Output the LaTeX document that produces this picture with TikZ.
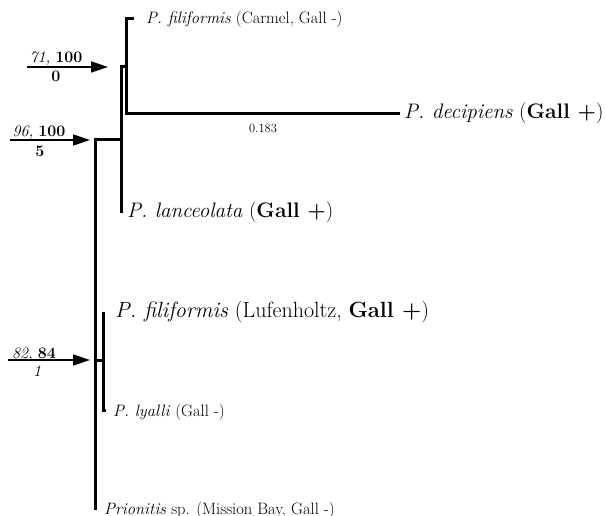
\documentclass[tikz,border=0pt]{standalone}
\usetikzlibrary{arrows.meta}
\begin{document}
\begin{tikzpicture}[x=1pt,y=-1pt,
  branch/.style={line width=3pt, line cap=butt, line join=miter},
  support/.style={line width=1.5pt, -{Triangle[length=17pt,width=11pt]}},
  big/.style={font=\fontsize{21}{25}\selectfont, inner sep=0pt},
  bigger/.style={font=\fontsize{22}{26}\selectfont, inner sep=0pt},
  small/.style={font=\fontsize{16.5}{20}\selectfont, inner sep=0pt},
  lab/.style={font=\fontsize{16}{19}\selectfont, inner sep=0pt},
  blen/.style={font=\fontsize{12.5}{15}\selectfont, inner sep=0pt}]
\useasboundingbox (0,0) rectangle (606,516);

% tree points
\coordinate (carT) at (134,19);
\coordinate (carV) at (126,19);
\coordinate (decV) at (126,114);
\coordinate (decT) at (400,114);
\coordinate (n1a) at (126,67);
\coordinate (n1b) at (121,67);
\coordinate (lanT) at (121,213);
\coordinate (n2a) at (121,140);
\coordinate (n2b) at (95,140);
\coordinate (root) at (95,510);
\coordinate (n3a) at (95,360);
\coordinate (n3b) at (103,360);
\coordinate (lufT) at (103,312);
\coordinate (lyaT) at (103,410);
\coordinate (lyaS) at (106,410);

% branches
\draw[branch] (carT) -- (carV) -- (decV) -- (decT);
\draw[branch] (n1a) -- (n1b) -- (lanT);
\draw[branch] (n2a) -- (n2b) -- (root);
\draw[branch] (n3a) -- (n3b);
\draw[branch] (lufT) -- (lyaT) -- (lyaS);

% support arrows
\coordinate (a1s) at (27,67);
\coordinate (a1e) at (108,67);
\coordinate (a2s) at (10,140);
\coordinate (a2e) at (90,140);
\coordinate (a3s) at (8,360);
\coordinate (a3e) at (90,360);
\draw[support] (a1s) -- (a1e);
\draw[support] (a2s) -- (a2e);
\draw[support] (a3s) -- (a3e);

\node[lab, anchor=base] (s1) at (56,63) {\textit{71,} \textbf{100}};
\node[lab, anchor=base] (b1) at (56,82) {\textbf{0}};
\node[lab, anchor=base] (s2) at (39,137) {\textit{96,} \textbf{100}};
\node[lab, anchor=base] (b2) at (40,157) {\textbf{5}};
\node[lab, anchor=base] (s3) at (34,358) {\textit{82,} \textbf{84}};
\node[lab, anchor=base] (b3) at (37,377) {\textit{1}};

\node[blen, anchor=base] (bl) at (263,133) {0.183};

% taxa
\node[small, anchor=base west] (carmel) at (146,24) {\textit{P. filiformis} (Carmel, Gall -)};
\node[big, anchor=base west] (dec) at (404,119) {\textit{P. decipiens} (\textbf{Gall +})};
\node[big, anchor=base west] (lan) at (127,218) {\textit{P. lanceolata} (\textbf{Gall +})};
\node[bigger, anchor=base west] (luf) at (115,318) {\textit{P. filiformis} (Lufenholtz, \textbf{Gall +})};
\node[small, anchor=base west] (lya) at (113,416) {\textit{P. lyalli} (Gall -)};
\node[small, anchor=base west] (pri) at (104,514) {\textit{Prionitis} sp. (Mission Bay, Gall -)};
\end{tikzpicture}
\end{document}
